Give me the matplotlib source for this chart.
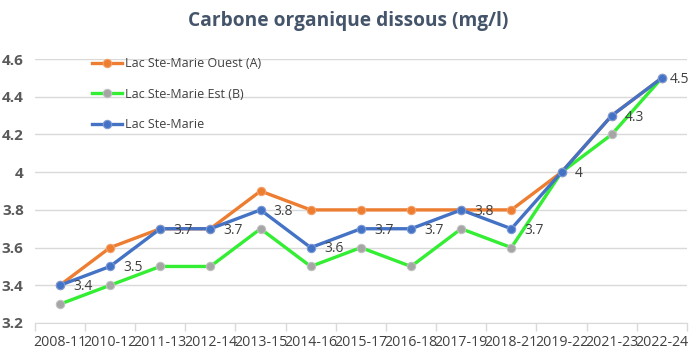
import matplotlib
matplotlib.use("Agg")
import matplotlib.pyplot as plt
import numpy as np

categories = ["2008-11", "2010-12", "2011-13", "2012-14", "2013-15", "2014-16", "2015-17",
              "2016-18", "2017-19", "2018-21", "2019-22", "2021-23", "2022-24"]
ouest_a = [3.4, 3.6, 3.7, 3.7, 3.9, 3.8, 3.8, 3.8, 3.8, 3.8, 4.0, 4.3, 4.5]
est_b = [3.3, 3.4, 3.5, 3.5, 3.7, 3.5, 3.6, 3.5, 3.7, 3.6, 4.0, 4.2, 4.5]
ste_marie = [3.4, 3.5, 3.7, 3.7, 3.8, 3.6, 3.7, 3.7, 3.8, 3.7, 4.0, 4.3, 4.5]
yticks = [3.2, 3.4, 3.6, 3.8, 4.0, 4.2, 4.4, 4.6]
ytick_labels = ["3.2", "3.4", "3.6", "3.8", "4", "4.2", "4.4", "4.6"]

plt.rcParams['font.family'] = ['Open Sans', 'DejaVu Sans']

fig = plt.figure(figsize=(6.96, 3.56), dpi=100)
ax = fig.add_axes([0.050, 0.0927, 0.937, 0.7413])

x = np.arange(len(categories))
ax.plot(x, ouest_a, color="#ED7D31", lw=2.4, marker="o", ms=6, mfc="#ED7D31", mec="#F4A06A",
        mew=0.8, label="Lac Ste-Marie Ouest (A)", zorder=3)
ax.plot(x, est_b, color="#33EE33", lw=2.4, marker="o", ms=6, mfc="#A5A5A5", mec="#C0C0C0",
        mew=0.8, label="Lac Ste-Marie Est (B)", zorder=4)
ax.plot(x, ste_marie, color="#4472C4", lw=2.4, marker="o", ms=6, mfc="#4472C4", mec="#7A9AD6",
        mew=0.8, label="Lac Ste-Marie", zorder=5)

n = len(categories)
for i, (xi, v) in enumerate(zip(x, ste_marie)):
    lab = ("%g" % v)
    dx = 5.5 if i == n - 1 else 9.5
    ax.annotate(lab, (xi, v), xytext=(dx, -1), textcoords="offset points", ha="left", va="center",
                fontsize=10, color="#404040", zorder=6, annotation_clip=False)

ax.set_xlim(-0.5, n - 0.5)
ax.set_ylim(3.2, 4.6)
ax.set_yticks(yticks)
ax.set_yticklabels(ytick_labels, fontsize=11, color="#595959", fontweight="bold")
ax.set_xticks(x)
ax.set_xticklabels(categories, fontsize=10.2, color="#404040")
ax.set_xticks(np.arange(n + 1) - 0.5, minor=True)
ax.tick_params(axis="x", which="major", length=0, pad=9)
ax.tick_params(axis="x", which="minor", length=6, color="#D9D9D9", width=1)
ax.tick_params(axis="y", length=0, pad=8)

ax.grid(axis="y", color="#D9D9D9", lw=1)
ax.set_axisbelow(True)
for s in ["top", "right", "left"]:
    ax.spines[s].set_visible(False)
ax.spines["bottom"].set_color("#D9D9D9")

leg = ax.legend(loc="upper left", bbox_to_anchor=(0.070, 1.05), frameon=False, fontsize=9,
                labelspacing=1.4, handlelength=2.4, handletextpad=0.3, labelcolor="#404040")

fig.text(0.5, 0.942, "Carbone organique dissous (mg/l)", ha="center", va="center",
         fontsize=13.8, fontweight="bold", color="#44546A")

fig.savefig("out.png", dpi=100)
